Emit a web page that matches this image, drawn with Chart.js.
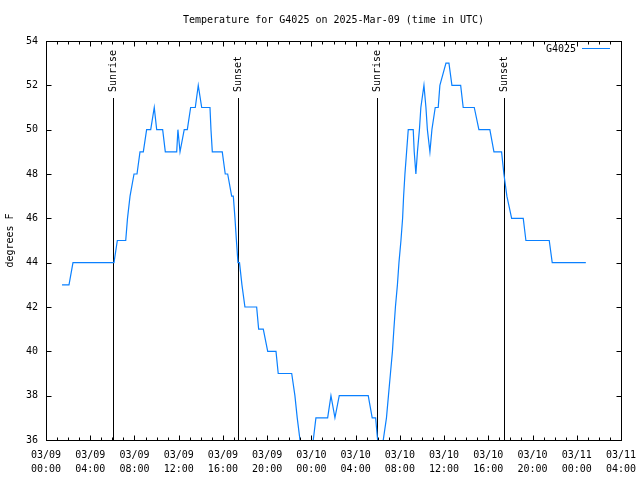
<!DOCTYPE html>
<html>
<head>
<meta charset="utf-8">
<title>Temperature for G4025</title>
<script src="https://cdn.jsdelivr.net/npm/chart.js@4.4.0/dist/chart.umd.min.js"></script>
<style>
  html, body { margin: 0; padding: 0; background: #fff; }
</style>
</head>
<body>
<canvas id="tempChart" width="640" height="480"></canvas>
<script>
// hours since 03/09 00:00 UTC, temperature readings in degrees F
const hours = [
  1.45, 2.08, 2.44, 6.15, 6.45, 7.21, 7.37, 7.6, 7.96, 8.23,
  8.5, 8.8, 9.1, 9.47, 9.79, 10.01, 10.55, 10.79, 11.82, 11.93,
  12.12, 12.5, 12.78, 13.08, 13.5, 13.77, 14.08, 14.83, 14.92, 15.04,
  15.94, 16.21, 16.43, 16.79, 16.94, 17.09, 17.22, 17.36, 17.5, 17.72,
  17.99, 19.05, 19.23, 19.65, 20.05, 20.8, 21.0, 22.22, 22.51, 22.72,
  22.97, 23.22, 23.9, 24.17, 24.41, 25.47, 25.77, 26.13, 26.52, 29.14,
  29.5, 29.81, 29.99, 30.3, 30.5, 30.79, 30.97, 31.15, 31.33, 31.46,
  31.6, 31.78, 31.92, 32.1, 32.25, 32.34, 32.46, 32.61, 32.76, 33.21,
  33.3, 33.45, 33.59, 33.77, 33.9, 34.18, 34.36, 34.49, 34.72, 34.9,
  35.2, 35.47, 35.62, 36.17, 36.44, 36.71, 37.5, 37.73, 38.73, 39.15,
  40.14, 40.51, 41.2, 41.41, 41.68, 42.11, 43.16, 43.4, 45.51, 45.78,
  48.82
];
const tempF = [
  43, 43, 44, 44, 45, 45, 46, 47, 48, 48,
  49, 49, 50, 50, 51, 50, 50, 49, 49, 50,
  49, 50, 50, 51, 51, 52, 51, 51, 50, 49,
  49, 48, 48, 47, 47, 46, 45, 44, 44, 43,
  42, 42, 41, 41, 40, 40, 39, 39, 38, 37,
  36, 35, 35, 36, 37, 37, 38, 37, 38, 38,
  37, 37, 36, 35, 36, 37, 38, 39, 40, 41,
  42, 43, 44, 45, 46, 47, 48, 49, 50, 50,
  49, 48, 49, 50, 51, 52, 51, 50, 49, 50,
  51, 51, 52, 53, 53, 52, 52, 51, 51, 50,
  50, 49, 49, 48, 47, 46, 46, 45, 45, 44,
  44
];

// sunrise / sunset markers
const sunEvents = ['Sunrise', 'Sunset', 'Sunrise', 'Sunset'];
const sunHours = [6.03, 17.36, 29.93, 41.41];

// x tick labels, one every 4 hours
const xTickLabels = [
  ['03/09', '00:00'], ['03/09', '04:00'], ['03/09', '08:00'], ['03/09', '12:00'],
  ['03/09', '16:00'], ['03/09', '20:00'], ['03/10', '00:00'], ['03/10', '04:00'],
  ['03/10', '08:00'], ['03/10', '12:00'], ['03/10', '16:00'], ['03/10', '20:00'],
  ['03/11', '00:00'], ['03/11', '04:00']
];

const seriesName = 'G4025';
const chartTitle = 'Temperature for G4025 on 2025-Mar-09 (time in UTC)';
const lineColor = '#0a80ff';
const monoFont = "'DejaVu Sans Mono', 'Liberation Mono', monospace";

// frame, inward ticks, sun markers, legend and title drawn like gnuplot
const gnuplotDecor = {
  id: 'gnuplotDecor',
  beforeDatasetsDraw(chart) {
    const { ctx, chartArea: a, scales: { x } } = chart;
    ctx.save();
    ctx.strokeStyle = '#000';
    ctx.lineWidth = 1;
    ctx.fillStyle = '#000';
    ctx.font = '10px ' + monoFont;
    sunHours.forEach((h, i) => {
      const px = Math.round(x.getPixelForValue(h)) + 0.5;
      ctx.beginPath();
      ctx.moveTo(px, 98);
      ctx.lineTo(px, a.bottom);
      ctx.stroke();
      ctx.save();
      ctx.translate(px, 92);
      ctx.rotate(-Math.PI / 2);
      ctx.textAlign = 'left';
      ctx.textBaseline = 'middle';
      ctx.fillText(sunEvents[i], 0, 0);
      ctx.restore();
    });
    ctx.restore();
  },
  afterDraw(chart) {
    const { ctx, chartArea: a, scales: { x, y } } = chart;
    ctx.save();
    ctx.strokeStyle = '#000';
    ctx.lineWidth = 1;
    const l = Math.round(a.left) + 0.5, r = Math.round(a.right) + 0.5;
    const t = Math.round(a.top) + 0.5, b = Math.round(a.bottom) + 0.5;
    ctx.strokeRect(l, t, r - l, b - t);

    ctx.beginPath();
    // x ticks: major every 4h, minor every hour, bottom and top
    for (let h = x.min; h <= x.max; h += 1) {
      const px = Math.round(x.getPixelForValue(h)) + 0.5;
      const len = h % 4 === 0 ? 5 : 3;
      ctx.moveTo(px, b); ctx.lineTo(px, b - len);
      ctx.moveTo(px, t); ctx.lineTo(px, t + len);
    }
    // y ticks every 2 degrees, left and right
    for (let v = y.min; v <= y.max; v += 2) {
      const py = Math.round(y.getPixelForValue(v)) + 0.5;
      ctx.moveTo(l, py); ctx.lineTo(l + 5, py);
      ctx.moveTo(r, py); ctx.lineTo(r - 5, py);
    }
    ctx.stroke();

    // title
    ctx.fillStyle = '#000';
    ctx.font = '10px ' + monoFont;
    ctx.textAlign = 'center';
    ctx.textBaseline = 'middle';
    ctx.fillText(chartTitle, (a.left + a.right) / 2, 20);

    // legend
    ctx.textAlign = 'right';
    ctx.fillText(seriesName, 576, 49);
    ctx.strokeStyle = lineColor;
    ctx.beginPath();
    ctx.moveTo(582, 48.5);
    ctx.lineTo(610, 48.5);
    ctx.stroke();
    ctx.restore();
  }
};

const points = hours.map((h, i) => ({ x: h, y: tempF[i] }));

const ctx = document.getElementById('tempChart').getContext('2d');
new Chart(ctx, {
  type: 'line',
  data: {
    datasets: [{
      label: seriesName,
      data: points,
      borderColor: lineColor,
      borderWidth: 1.2,
      pointRadius: 0,
      tension: 0,
      fill: false
    }]
  },
  options: {
    responsive: false,
    animation: false,
    layout: { padding: { top: 41, right: 19, bottom: 0, left: 0 } },
    plugins: {
      legend: { display: false },
      title: { display: false },
      tooltip: { enabled: false }
    },
    scales: {
      x: {
        type: 'linear',
        min: 0,
        max: 52,
        grid: { display: false, drawTicks: false },
        border: { display: false },
        ticks: {
          stepSize: 4,
          autoSkip: false,
          maxRotation: 0,
          padding: 8,
          color: '#000',
          font: { family: monoFont, size: 10, lineHeight: 1.45 },
          callback: (v, i) => xTickLabels[i]
        },
        afterFit: s => {
          s.height = 40;
          s.paddingLeft = 0;
          s.paddingRight = 0;
        }
      },
      y: {
        min: 36,
        max: 54,
        grid: { display: false, drawTicks: false },
        border: { display: false },
        ticks: {
          stepSize: 2,
          padding: 8,
          color: '#000',
          font: { family: monoFont, size: 10 }
        },
        title: {
          display: true,
          text: 'degrees F',
          color: '#000',
          font: { family: monoFont, size: 10 },
          padding: { top: 4, bottom: 4 }
        },
        afterFit: s => { s.width = 46; }
      }
    }
  },
  plugins: [gnuplotDecor]
});
</script>
</body>
</html>
